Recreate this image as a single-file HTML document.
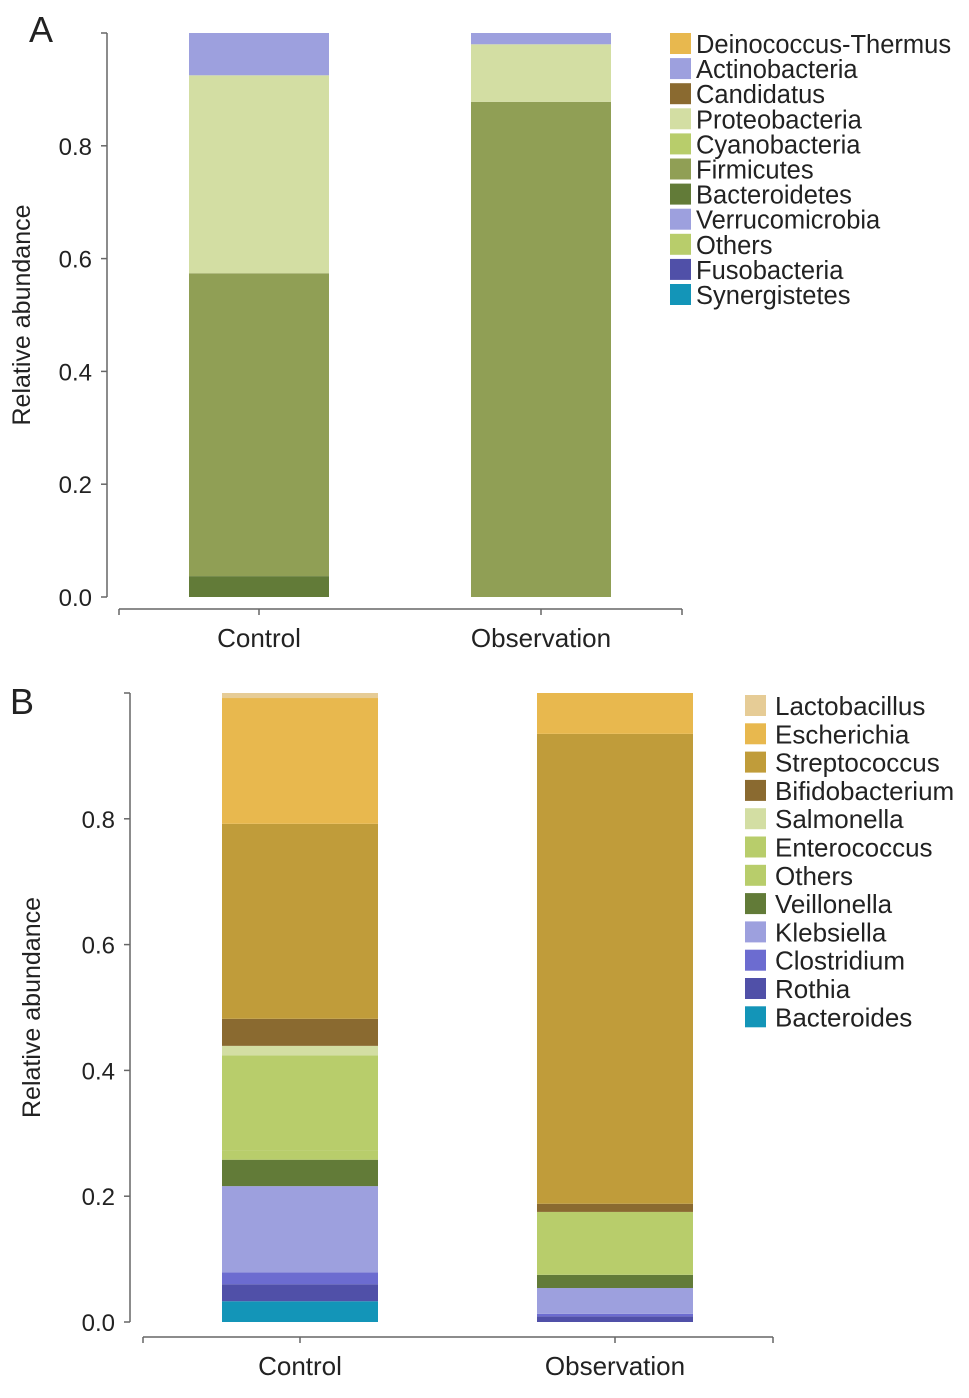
<!DOCTYPE html>
<html><head><meta charset="utf-8"><style>
html,body{margin:0;padding:0;background:#fff;}
svg text{font-family:"Liberation Sans",Arial,sans-serif;fill:#222;}
</style></head><body>
<svg id="fig" width="969" height="1393" viewBox="0 0 969 1393" xmlns="http://www.w3.org/2000/svg"></svg>
<script>
// Panel A data
const catsA = ["Control","Observation"];
const seriesA = ["Deinococcus-Thermus","Actinobacteria","Candidatus","Proteobacteria","Cyanobacteria","Firmicutes","Bacteroidetes","Verrucomicrobia","Others","Fusobacteria","Synergistetes"];
const colorsA = ["#E8B84E","#9DA0DE","#8A6A30","#D3DEA3","#B8CD6B","#909F55","#627B38","#9DA0DE","#B8CD6B","#5050A8","#1395B8"];
const ctrlA = [0,0.075,0,0.351,0,0.537,0.037,0,0,0,0];
const obsA  = [0,0.02,0,0.102,0,0.878,0,0,0,0,0];
// Panel B data
const catsB = ["Control","Observation"];
const seriesB = ["Lactobacillus","Escherichia","Streptococcus","Bifidobacterium","Salmonella","Enterococcus","Others","Veillonella","Klebsiella","Clostridium","Rothia","Bacteroides"];
const colorsB = ["#E6CC96","#E8B84E","#C09C3A","#8A6A30","#D3DEA3","#B8CD6B","#B8CD6B","#627B38","#9DA0DE","#6C6CD0","#5050A8","#1395B8"];
const ctrlB = [0.008,0.2,0.31,0.043,0.015,0.152,0.014,0.042,0.137,0.019,0.027,0.033];
const obsB  = [0,0.065,0.747,0.013,0,0.1,0,0.021,0.041,0.004,0.009,0];
const ticks = [0,0.2,0.4,0.6,0.8];

const svg = document.getElementById('fig');
const NS = "http://www.w3.org/2000/svg";
function mk(tag, attrs, parent){const e=document.createElementNS(NS,tag);for(const k in attrs)e.setAttribute(k,attrs[k]);(parent||svg).appendChild(e);return e;}

function panel(cfg){
  const g = mk('g',{});
  
  
  const y = v => cfg.y0 - v*(cfg.y0-cfg.y1);
  const ax = mk('line',{x1:cfg.ax,x2:cfg.ax,y1:y(0),y2:y(1),stroke:'#666','stroke-width':1.5},g);
  
  
  ticks.concat([1]).forEach(t=>{
    mk('line',{x1:cfg.ax-6,x2:cfg.ax,y1:y(t),y2:y(t),stroke:'#666','stroke-width':1.5},g);
  });
  ticks.forEach(t=>{
    const tx = mk('text',{x:cfg.ax-15,y:y(t)+9,'text-anchor':'end','font-size':24},g);
    tx.textContent = t.toFixed(1);
    
    
  });
  const yt = mk('text',{x:0,y:0,'text-anchor':'middle','font-size':25,transform:`translate(${cfg.ytx},${(y(0)+y(1))/2}) rotate(-90)`},g);
  yt.textContent='Relative abundance';
  
  
  const xa = mk('line',{x1:cfg.xa0,x2:cfg.xa1,y1:cfg.xay,y2:cfg.xay,stroke:'#666','stroke-width':1.5},g);
  
  
  [cfg.xa0,cfg.xa1].forEach(x=>mk('line',{x1:x,x2:x,y1:cfg.xay,y2:cfg.xay+6,stroke:'#666','stroke-width':1.5},g));
  cfg.cats.forEach((c,i)=>{
    const cx = cfg.cx[i];
    mk('line',{x1:cx,x2:cx,y1:cfg.xay,y2:cfg.xay+6,stroke:'#666','stroke-width':1.5},g);
    const t = mk('text',{x:cx,y:cfg.xay+38,'text-anchor':'middle','font-size':26},g);
    t.textContent = c;
    
    
    const vals = cfg.vals[i];
    let cum = 0;
    for(let k=vals.length-1;k>=0;k--){
      if(vals[k]<=0) continue;
      const r = mk('rect',{x:cx-cfg.bw/2,y:y(cum+vals[k]),width:cfg.bw,height:y(cum)-y(cum+vals[k]),fill:cfg.colors[k]},g);
      
      
      cum += vals[k];
    }
  });
  cfg.series.forEach((s,k)=>{
    const ly = cfg.ly0 + k*cfg.lstep;
    const sw = mk('rect',{x:cfg.lx,y:ly-11,width:21,height:21,fill:cfg.colors[k]},g);
    
    
    const t = mk('text',{x:cfg.lx+cfg.ltx,y:ly+9,'font-size':cfg.lfs},g);
    t.textContent = s;
    
    
  });
  const L = mk('text',{x:cfg.px,y:cfg.py,'font-size':36},g);
  L.textContent = cfg.letter;
  
  
}

panel({name:'panel-a',letter:'A',px:29,py:42,y0:597,y1:33,ax:107,ytx:30,xa0:119,xa1:682,xay:609,
  cats:catsA,cx:[259,541],bw:140,vals:[ctrlA,obsA],series:seriesA,colors:colorsA,lx:670,ly0:44,lstep:25.1,ltx:26,lfs:25.5});
panel({name:'panel-b',letter:'B',px:10,py:714,y0:1322,y1:693,ax:130,ytx:40,xa0:143,xa1:773,xay:1337,
  cats:catsB,cx:[300,615],bw:156,vals:[ctrlB,obsB],series:seriesB,colors:colorsB,lx:745,ly0:706,lstep:28.3,ltx:30,lfs:26});
</script>
</body></html>
